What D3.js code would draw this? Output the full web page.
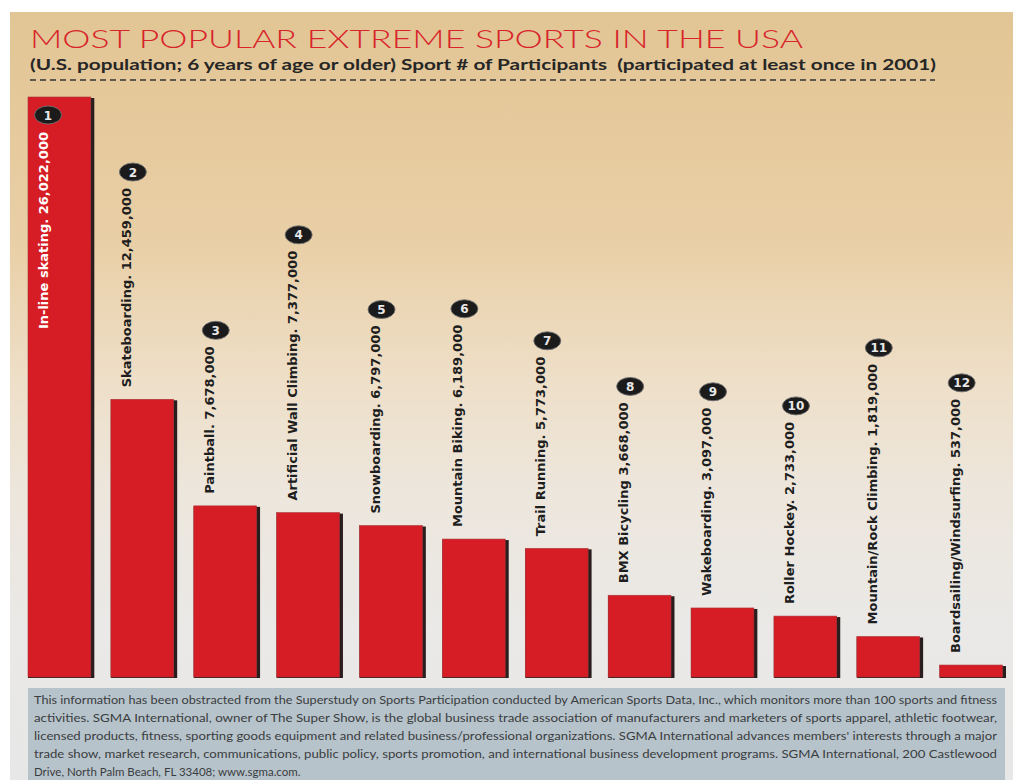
<!DOCTYPE html>
<html><head><meta charset="utf-8">
<script src="https://cdn.jsdelivr.net/npm/d3@7/dist/d3.min.js"></script>
<style>
html,body{margin:0;padding:0;background:#fff;}
svg{display:block;}
</style></head>
<body>
<svg id="chart" width="1013" height="780"></svg>
<script>
const sports = ["In-line skating","Skateboarding","Paintball","Artificial Wall Climbing","Snowboarding","Mountain Biking","Trail Running","BMX Bicycling","Wakeboarding","Roller Hockey","Mountain/Rock Climbing","Boardsailing/Windsurfing"];
const participants = [26022000,12459000,7678000,7377000,6797000,6189000,5773000,3668000,3097000,2733000,1819000,537000];
const labelTexts = ["In-line skating. 26,022,000","Skateboarding. 12,459,000","Paintball. 7,678,000","Artificial Wall Climbing. 7,377,000","Snowboarding. 6,797,000","Mountain Biking. 6,189,000","Trail Running. 5,773,000","BMX Bicycling 3,668,000","Wakeboarding. 3,097,000","Roller Hockey. 2,733,000","Mountain/Rock Climbing. 1,819,000","Boardsailing/Windsurfing. 537,000"];
const ranks = ["1","2","3","4","5","6","7","8","9","10","11","12"];
const titleText = "MOST POPULAR EXTREME SPORTS IN THE USA";
const subtitleText = "(U.S. population; 6 years of age or older) Sport # of Participants  (participated at least once in 2001)";
const footerLines = [
 "This information has been obstracted from the Superstudy on Sports Participation conducted by American Sports Data, Inc., which monitors more than 100 sports and fitness",
 "activities. SGMA International, owner of The Super Show, is the global business trade association of manufacturers and marketers of sports apparel, athletic footwear,",
 "licensed products, fitness, sporting goods equipment and related business/professional organizations. SGMA International advances members' interests through a major",
 "trade show, market research, communications, public policy, sports promotion, and international business development programs. SGMA International, 200 Castlewood",
 "Drive, North Palm Beach, FL 33408; www.sgma.com."
];

const svg = d3.select("#chart");
const defs = svg.append("defs");
const grad = defs.append("linearGradient").attr("id","bg").attr("x1",0).attr("y1",0).attr("x2",0).attr("y2",1);
[[0,"#e2c594"],[0.3,"#e9cfa6"],[0.48,"#eedfc8"],[0.62,"#ede6dc"],[0.8,"#eae9e7"],[1,"#e7e7e7"]].forEach(s=>grad.append("stop").attr("offset",s[0]).attr("stop-color",s[1]));

svg.append("rect").attr("x",10).attr("y",12).attr("width",1003).attr("height",768).attr("fill","url(#bg)");

// title
svg.append("text").attr("x",30).attr("y",48).text(titleText)
  .attr("font-family","Lato, sans-serif").attr("font-weight",300).attr("font-size",25)
  .attr("fill","#d8242a").attr("textLength",773).attr("lengthAdjust","spacingAndGlyphs");
svg.append("text").attr("x",30).attr("y",70).text(subtitleText)
  .style("white-space","pre")
  .attr("font-family","Lato, sans-serif").attr("font-weight",700).attr("font-size",16)
  .attr("fill","#262626").attr("textLength",906).attr("lengthAdjust","spacingAndGlyphs");
svg.append("line").attr("x1",30).attr("x2",935).attr("y1",80).attr("y2",80)
  .attr("stroke","#333").attr("stroke-width",1.6).attr("stroke-dasharray","6,4");

// scales
const x = d3.scaleBand().domain(sports).range([28,1006]).paddingInner(0.2).paddingOuter(0);
const y = d3.scaleLinear().domain([0,26022000]).range([677,97]);
const bw = x.bandwidth();

const g = svg.append("g");
const bars = g.selectAll("g.bar").data(sports).join("g").attr("class","bar");
bars.append("rect").attr("x",d=>x(d)).attr("y",(d,i)=>y(participants[i])+1)
  .attr("width",bw).attr("height",(d,i)=>y(0)-y(participants[i])).attr("fill","#2a1d1d");
bars.append("rect").attr("x",d=>x(d)).attr("y",(d,i)=>y(participants[i]))
  .attr("width",bw-3.5).attr("height",(d,i)=>y(0)-y(participants[i])).attr("fill","#d61c24")
  .attr("stroke","#a8383b").attr("stroke-width",0.6);

// labels
sports.forEach((d,i)=>{
  const top = y(participants[i]);
  const left = x(d);
  const inside = i===0;
  const tx = left+20;
  const ty = inside ? top+35 : top-12;
  const t = g.append("text").text(labelTexts[i])
    .attr("transform",`translate(${tx},${ty}) rotate(-90)`)
    .attr("text-anchor", inside ? "end" : "start")
    .attr("font-family","DejaVu Sans, sans-serif").attr("font-weight",700).attr("font-size",13)
    .attr("fill", inside ? "#ffffff" : "#1e1e1e");
  const len = t.node().getComputedTextLength();
  const cx = left + (inside ? 20 : 22);
  const cy = inside ? top+18 : ty - len - 16;
  g.append("ellipse").attr("cx",cx).attr("cy",cy).attr("rx",13.5).attr("ry",9)
    .attr("fill","#1b1b1b").attr("stroke","#6f6f6f").attr("stroke-width",0.9);
  g.append("text").attr("x",cx).attr("y",cy+4.5).attr("text-anchor","middle").text(ranks[i])
    .attr("font-family","DejaVu Sans, sans-serif").attr("font-weight",700).attr("font-size",12)
    .attr("fill","#e8e8e8");
});

// footer
svg.append("rect").attr("x",28).attr("y",688).attr("width",977).attr("height",92).attr("fill","#b7c3cb");
footerLines.forEach((line,i)=>{
  const t = svg.append("text").attr("x",34).attr("y",704+i*17.9).text(line)
    .attr("font-family","Lato, sans-serif").attr("font-size",11.5).attr("fill","#3a3d40");
  if(i<footerLines.length-1) t.attr("textLength",963).attr("lengthAdjust","spacingAndGlyphs");
});
</script>
</body></html>
